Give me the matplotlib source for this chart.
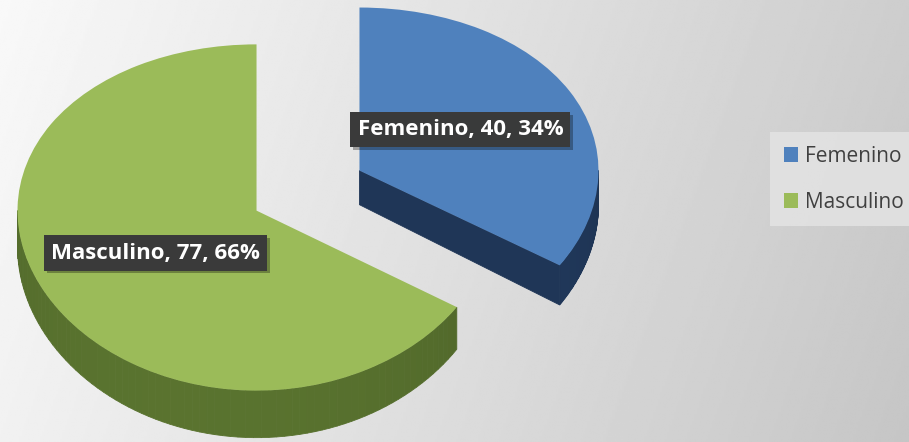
import numpy as np
import matplotlib
matplotlib.use('Agg')
import matplotlib.pyplot as plt
from matplotlib.patches import Polygon
import matplotlib.patheffects as pe
import matplotlib.colors as mcolors

# ---- data ----
categories = ['Femenino', 'Masculino']
values = [40, 77]
top_colors = ['#4F81BD', '#9BBB59']
side_colors = ['#1F3657', '#50672A']
explode = [0.245, 0.245]

W, H = 909, 442
fig = plt.figure(figsize=(W / 100, H / 100), dpi=100)

# ---- background gradient ----
bg = fig.add_axes([0, 0, 1, 1])
xx = np.linspace(0, 1, 400)
yy = np.linspace(0, 1, 200)
X, Y = np.meshgrid(xx, yy)
g = 0.975 - 0.17 * X - 0.03 * Y
bg.imshow(g, cmap='gray', vmin=0, vmax=1, extent=[0, 1, 0, 1],
          aspect='auto', origin='upper', interpolation='bilinear')
bg.axis('off')

# ---- pie ----
ax = fig.add_axes([0, 0, 1, 1])
ax.patch.set_alpha(0)
rx, ry = 239, 171.5        # pixels per unit radius (horizontal / vertical)
cx, cy = 308, 190.5        # pixel position of pie centre (from top-left)
K = 0.04                   # mild perspective (nearer = larger)


def fwd(y):
    return y - K * y ** 2


def inv(Yv):
    return (1 - np.sqrt(np.maximum(1 - 4 * K * Yv, 0))) / (2 * K)


wedges, _ = ax.pie(values, explode=explode, colors=top_colors, startangle=90,
                   counterclock=False, radius=1,
                   wedgeprops=dict(linewidth=0, zorder=3))
ax.set_aspect('auto')
ax.set_yscale('function', functions=(fwd, inv))
ax.set_xlim(-cx / rx, (W - cx) / rx)
ax.set_ylim(float(inv(-(H - cy) / ry)), float(inv(cy / ry)))
ax.axis('off')


def depth(y):
    return (35 - 7 * y) / ry


def shade(color, f):
    r, g_, b = mcolors.to_rgb(color)
    return (min(r * f, 1), min(g_ * f, 1), min(b * f, 1))


for w, sc in zip(wedges, side_colors):
    x0, y0 = w.center
    r = w.r
    t1, t2 = w.theta1, w.theta2
    # outer curved side (front-facing part)
    for k in range(-2, 3):
        lo = max(t1, -180 + 360 * k)
        hi = min(t2, 0 + 360 * k)
        if hi > lo:
            angs = np.linspace(lo, hi, 80)
            for a, b in zip(angs[:-1], angs[1:]):
                pts = []
                for ang in (a, b):
                    px = x0 + r * np.cos(np.deg2rad(ang))
                    py = y0 + r * np.sin(np.deg2rad(ang))
                    pts.append((px, py))
                p1, p2 = pts
                poly = [p1, p2, (p2[0], p2[1] - depth(p2[1])),
                        (p1[0], p1[1] - depth(p1[1]))]
                m = np.deg2rad((a + b) / 2 - 360 * k)
                f = 1.0 + 0.12 * np.cos(m + np.deg2rad(110))
                c = shade(sc, f)
                ax.add_patch(Polygon(poly, closed=True, fc=c, ec=c, lw=0.6,
                                     zorder=2))
    # radial cut faces
    for t, sgn in ((t1, -1), (t2, 1)):
        normal = np.deg2rad(t + sgn * 90)
        if np.sin(normal) < -1e-6:
            ex = x0 + r * np.cos(np.deg2rad(t))
            ey = y0 + r * np.sin(np.deg2rad(t))
            poly = [(x0, y0), (ex, ey), (ex, ey - depth(ey)),
                    (x0, y0 - depth(y0))]
            ax.add_patch(Polygon(poly, closed=True, fc=sc, ec=sc, lw=0.6,
                                 zorder=2))

# ---- data labels ----
total = sum(values)
for w, cat, v in zip(wedges, categories, values):
    mid = np.deg2rad((w.theta1 + w.theta2) / 2)
    lx = w.center[0] + 0.48 * np.cos(mid)
    ly = w.center[1] + 0.51 * np.sin(mid)
    t = ax.text(lx, ly, f'{cat}, {v}, {v / total * 100:.0f}%',
                ha='center', va='center', color='white', fontsize=16,
                fontweight='bold', family='Open Sans', zorder=5,
                bbox=dict(boxstyle='square,pad=0.32', fc='#3a3a3a', ec='none',
                          alpha=0.95))
    t.get_bbox_patch().set_path_effects(
        [pe.withSimplePatchShadow(offset=(2, -2), shadow_rgbFace='k',
                                  alpha=0.3), pe.Normal()])

# ---- legend ----
leg = ax.legend(wedges, categories, loc='upper left',
                bbox_to_anchor=(770 / W, 1 - 132 / H),
                bbox_transform=fig.transFigure, frameon=True, fancybox=False,
                facecolor='#e2e2e2', edgecolor='none', framealpha=0.9,
                prop=dict(family='Open Sans', size=15),
                handlelength=0.7, handleheight=0.7, handletextpad=0.35,
                labelspacing=1.2, borderpad=0.65, borderaxespad=0)
for txt in leg.get_texts():
    txt.set_color('#404040')

fig.savefig('out.png', dpi=100)
